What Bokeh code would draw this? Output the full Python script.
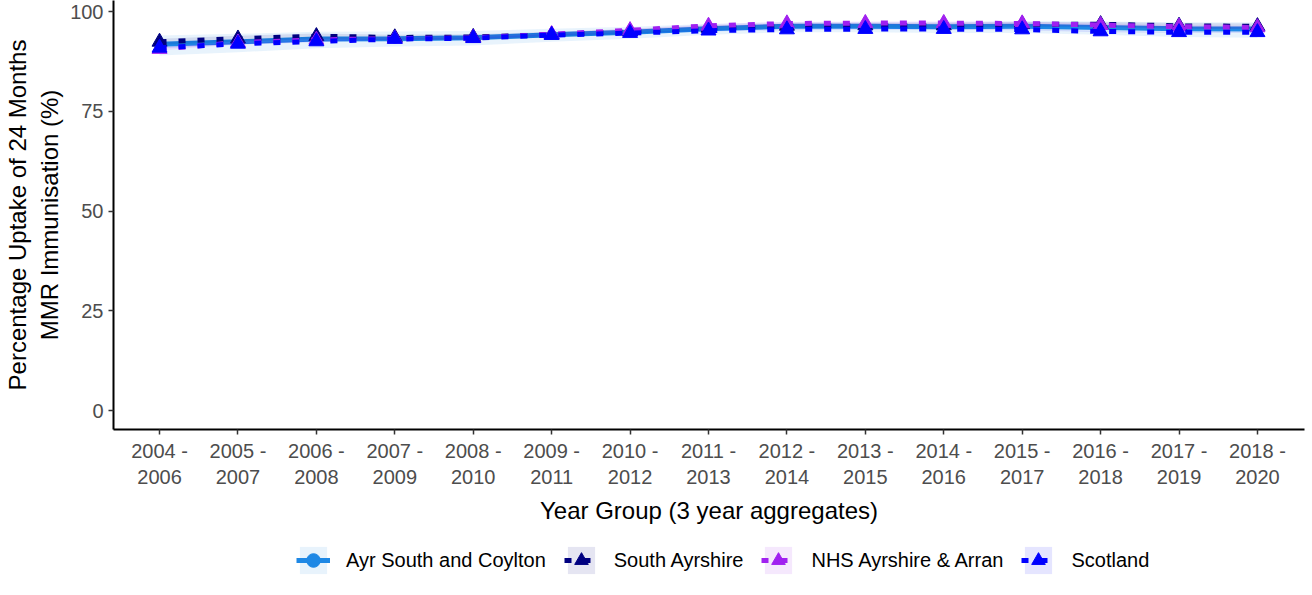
from bokeh.plotting import figure
from bokeh.models import Legend, LegendItem, Range1d, FixedTicker, ColumnDataSource
from bokeh.layouts import column
from bokeh.embed import file_html
from bokeh.resources import INLINE

periods = ["2004 -\n2006", "2005 -\n2007", "2006 -\n2008", "2007 -\n2009", "2008 -\n2010",
           "2009 -\n2011", "2010 -\n2012", "2011 -\n2013", "2012 -\n2014", "2013 -\n2015",
           "2014 -\n2016", "2015 -\n2017", "2016 -\n2018", "2017 -\n2019", "2018 -\n2020"]

ayr = [91.8, 92.4, 93.1, 93.2, 93.4, 94.2, 94.8, 95.7, 96.3, 96.3, 96.2, 96.3, 96.0, 95.7, 95.6]
ayr_lo = [89.0, 89.8, 90.8, 91.2, 91.5, 92.4, 93.2, 94.2, 94.8, 94.8, 94.6, 94.6, 94.2, 93.6, 93.4]
ayr_hi = [94.0, 94.4, 94.9, 95.0, 95.1, 95.7, 96.2, 96.9, 97.4, 97.4, 97.4, 97.6, 97.5, 97.3, 97.3]

sa = [92.4, 93.2, 93.8, 93.5, 93.6, 94.2, 95.0, 95.9, 96.4, 96.5, 96.5, 96.8, 96.8, 96.4, 96.3]
sa_lo = [91.6, 92.5, 93.1, 92.8, 92.9, 93.5, 94.4, 95.3, 95.8, 95.9, 95.9, 96.2, 96.2, 95.7, 95.6]
sa_hi = [93.2, 93.9, 94.5, 94.2, 94.3, 94.9, 95.6, 96.5, 97.0, 97.1, 97.1, 97.4, 97.4, 97.1, 97.0]

nhs = [90.6, 92.2, 92.9, 93.2, 93.4, 94.3, 95.3, 96.4, 97.0, 97.1, 97.1, 97.0, 96.6, 96.2, 96.0]
nhs_lo = [90.2, 91.8, 92.5, 92.8, 93.0, 93.9, 94.9, 96.0, 96.6, 96.7, 96.7, 96.6, 96.2, 95.8, 95.6]
nhs_hi = [91.0, 92.6, 93.3, 93.6, 93.8, 94.7, 95.7, 96.8, 97.4, 97.5, 97.5, 97.4, 97.0, 96.6, 96.4]

scot = [90.9, 91.9, 92.5, 93.1, 93.3, 94.1, 94.6, 95.2, 95.5, 95.6, 95.6, 95.5, 95.0, 94.8, 94.8]
scot_lo = [90.7, 91.7, 92.3, 92.9, 93.1, 93.9, 94.4, 95.0, 95.3, 95.4, 95.4, 95.3, 94.8, 94.6, 94.6]
scot_hi = [91.1, 92.1, 92.7, 93.3, 93.5, 94.3, 94.8, 95.4, 95.7, 95.8, 95.8, 95.7, 95.2, 95.0, 95.0]

names = ["Ayr South and Coylton", "South Ayrshire", "NHS Ayrshire & Arran", "Scotland"]
colors = ["#1E88E5", "#000080", "#A020F0", "#0000FF"]

x = list(range(len(periods)))
FONT = "Liberation Sans"

p = figure(frame_width=1191, frame_height=429, output_backend="svg", toolbar_location=None,
           x_range=Range1d(-0.587, 14.6), y_range=Range1d(-4.76, 102.76),
           min_border_left=107, min_border_right=4, min_border_top=0, min_border_bottom=98)
p.grid.visible = False
p.outline_line_color = None
p.background_fill_color = "white"

# legend-only figure underneath (its key renderers sit outside its visible range)
lg = figure(width=1302, height=50, output_backend="svg", toolbar_location=None,
            x_range=Range1d(0, 1), y_range=Range1d(0, 1),
            x_axis_location=None, y_axis_location=None,
            min_border_left=0, min_border_right=0, min_border_top=0, min_border_bottom=0)
lg.grid.visible = False
lg.outline_line_color = None

series = [(ayr, ayr_lo, ayr_hi), (sa, sa_lo, sa_hi), (nhs, nhs_lo, nhs_hi), (scot, scot_lo, scot_hi)]
items = []
for i, (vals, lo, hi) in enumerate(series):
    src = ColumnDataSource(dict(x=x, y=vals, lo=lo, hi=hi))
    c = colors[i]
    p.varea(x="x", y1="lo", y2="hi", source=src, fill_color=c, fill_alpha=0.1)
    rib = lg.varea(x="x", y1="lo", y2="hi", source=src, fill_color=c, fill_alpha=0.1)
    if i == 0:
        p.line(x="x", y="y", source=src, line_color=c, line_width=5)
        p.scatter(x="x", y="y", source=src, marker="circle", size=9, color=c)
        ln = lg.line(x="x", y="y", source=src, line_color=c, line_width=5)
        mk = lg.scatter(x="x", y="y", source=src, marker="circle", size=9, color=c)
    else:
        p.line(x="x", y="y", source=src, line_color=c, line_width=5, line_dash="7 12")
        p.scatter(x="x", y="y", source=src, marker="triangle", size=15, color=c)
        ln = lg.line(x="x", y="y", source=src, line_color=c, line_width=5, line_dash="7 12")
        mk = lg.scatter(x="x", y="y", source=src, marker="triangle", size=15, color=c)
    items.append(LegendItem(label=names[i], renderers=[rib, ln, mk]))

p.xaxis.ticker = FixedTicker(ticks=x)
p.xaxis.major_label_overrides = {i: s for i, s in enumerate(periods)}
p.yaxis.ticker = FixedTicker(ticks=[0, 25, 50, 75, 100])

for ax in (p.xaxis, p.yaxis):
    ax.axis_line_color = "black"
    ax.axis_line_width = 2
    ax.major_tick_line_color = "#333333"
    ax.major_tick_line_width = 1.5
    ax.major_tick_out = 5
    ax.major_tick_in = 0
    ax.minor_tick_line_color = None
    ax.major_label_text_font = FONT
    ax.major_label_text_font_size = "20px"
    ax.major_label_text_color = "#4D4D4D"
    ax.axis_label_text_font = FONT
    ax.axis_label_text_font_size = "24px"
    ax.axis_label_text_font_style = "normal"
    ax.axis_label_text_color = "black"

p.xaxis.axis_label = "Year Group (3 year aggregates)"
p.yaxis.axis_label = "Percentage Uptake of 24 Months\nMMR Immunisation (%)"
p.xaxis.major_label_standoff = 5
p.xaxis.axis_label_standoff = 6
p.yaxis.major_label_standoff = 5
p.yaxis.axis_label_standoff = 4

legend = Legend(items=items, orientation="horizontal", location=(183, 0),
                label_text_font=FONT, label_text_font_size="20px", label_text_color="black",
                glyph_width=34, glyph_height=34, spacing=18, label_standoff=16,
                border_line_color=None, background_fill_alpha=0, margin=0, padding=0)
lg.add_layout(legend, "center")

layout = column(p, lg, spacing=0)
open("out.html", "w").write(file_html(layout, INLINE))
